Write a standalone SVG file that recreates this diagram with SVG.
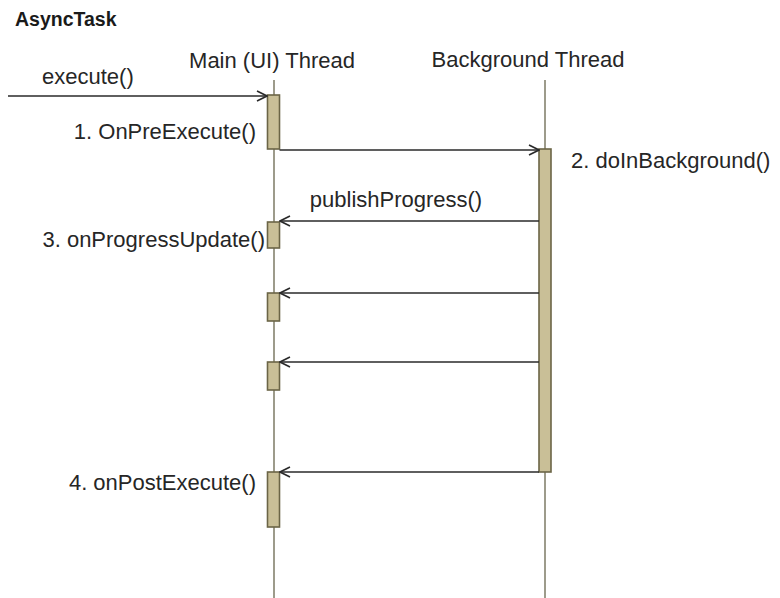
<svg xmlns="http://www.w3.org/2000/svg" width="780" height="598" viewBox="0 0 780 598">
  <style>
    .lbl { font-family: "Liberation Sans", Arial, sans-serif; font-size: 22px; fill: #262626; }
    .title { font-family: "Liberation Sans", Arial, sans-serif; font-size: 19.5px; font-weight: bold; fill: #1a1a1a; }
    .life { stroke: #85826e; stroke-width: 1.6; fill: none; }
    .act { fill: #c9bf97; stroke: #6b6546; stroke-width: 1.6; }
    .msg { stroke: #2a2a2a; stroke-width: 1.6; fill: none; marker-end: url(#open); }
  </style>
  <defs>
    <marker id="open" viewBox="0 0 12 12" refX="11" refY="6" markerWidth="12" markerHeight="12" markerUnits="userSpaceOnUse" orient="auto">
      <path d="M1,1 L11,6 L1,11" fill="none" stroke="#2a2a2a" stroke-width="1.6"/>
    </marker>
  </defs>

  <rect width="780" height="598" fill="#ffffff"/>

  <text class="title" x="15" y="26">AsyncTask</text>

  <!-- lifeline headers -->
  <g id="main-thread">
    <text class="lbl" x="272" y="68" text-anchor="middle">Main (UI) Thread</text>
    <line class="life" x1="274" y1="80" x2="274" y2="598"/>
  </g>
  <g id="background-thread">
    <text class="lbl" x="528" y="67" text-anchor="middle">Background Thread</text>
    <line class="life" x1="545" y1="80" x2="545" y2="598"/>
  </g>

  <!-- activations on the main thread -->
  <g id="on-pre-execute">
    <rect class="act" x="267.5" y="95" width="12" height="54"/>
    <text class="lbl" x="256" y="139" text-anchor="end">1. OnPreExecute()</text>
  </g>
  <g id="on-progress-update-1">
    <rect class="act" x="267.5" y="222" width="12" height="26"/>
    <text class="lbl" x="265" y="247" text-anchor="end">3. onProgressUpdate()</text>
  </g>
  <g id="on-progress-update-2">
    <rect class="act" x="267.5" y="293" width="12" height="28"/>
  </g>
  <g id="on-progress-update-3">
    <rect class="act" x="267.5" y="362" width="12" height="28"/>
  </g>
  <g id="on-post-execute">
    <rect class="act" x="267.5" y="472" width="12" height="55"/>
    <text class="lbl" x="256" y="490" text-anchor="end">4. onPostExecute()</text>
  </g>

  <!-- activation on the background thread -->
  <g id="do-in-background">
    <rect class="act" x="539" y="149" width="12" height="323"/>
    <text class="lbl" x="571" y="168">2. doInBackground()</text>
  </g>

  <!-- messages -->
  <g id="connectors">
    <line class="msg" x1="8" y1="96" x2="267" y2="96"/>
    <text class="lbl" x="42" y="84">execute()</text>
    <line class="msg" x1="279.5" y1="150" x2="539" y2="150"/>
    <line class="msg" x1="539" y1="221" x2="280" y2="221"/>
    <text class="lbl" x="396" y="207" text-anchor="middle">publishProgress()</text>
    <line class="msg" x1="539" y1="293" x2="280" y2="293"/>
    <line class="msg" x1="539" y1="362" x2="280" y2="362"/>
    <line class="msg" x1="539" y1="472" x2="280" y2="472"/>
  </g>
</svg>
